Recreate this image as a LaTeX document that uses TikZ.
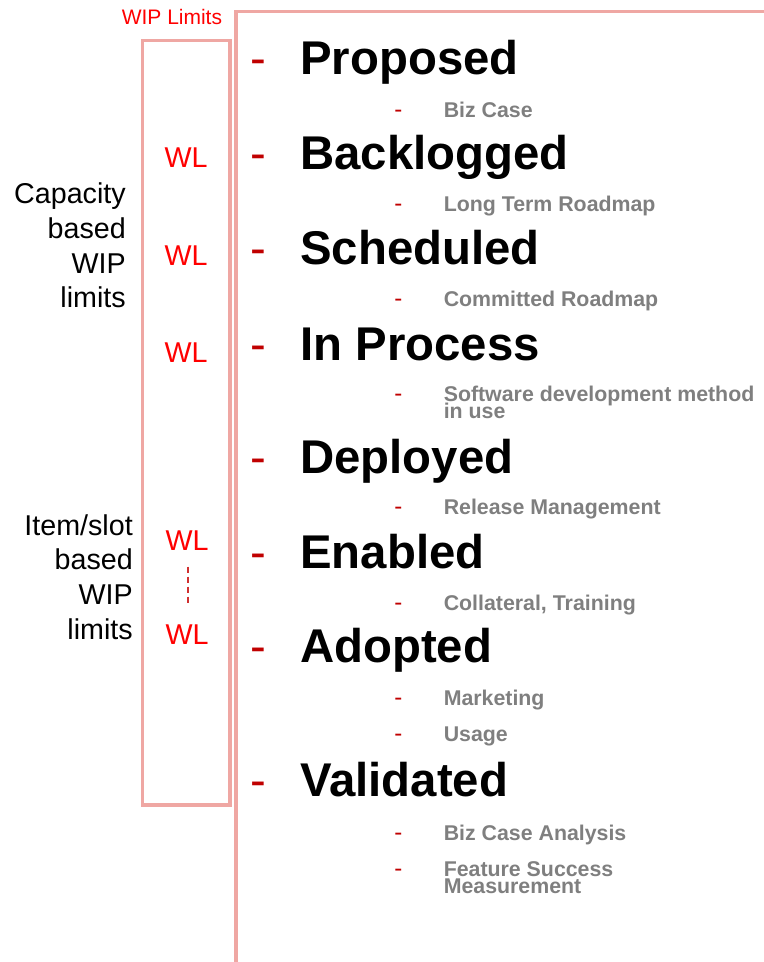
\documentclass[tikz,border=0pt]{standalone}
\usepackage{fontspec}
\setmainfont{Liberation Sans}

\definecolor{framepink}{RGB}{239,167,163}
\definecolor{bulletred}{RGB}{192,0,0}
\definecolor{wlred}{RGB}{255,0,0}
\definecolor{subgray}{RGB}{127,127,127}
\definecolor{dashred}{RGB}{208,48,48}

% multi-line texts whose first baseline is the node's base
\newcommand{\leftstack}[1]{\parbox[t]{90pt}{\lineskiplimit=-100pt\raggedleft #1}}
\newcommand{\rightstack}[1]{\parbox[t]{240pt}{\lineskiplimit=-100pt\raggedright #1}}

\tikzset{
  frame/.style={draw=framepink, line width=2.5pt},
  stage/.style={anchor=base west, inner sep=0pt, text=black,
    font=\fontsize{35.5}{40}\selectfont\bfseries},
  stagebullet/.style={anchor=base west, inner sep=0pt, text=bulletred,
    font=\fontsize{35.5}{40}\selectfont},
  detail/.style={anchor=base west, inner sep=0pt, text=subgray,
    font=\fontsize{16}{12.5}\selectfont\bfseries},
  detailbullet/.style={anchor=base west, inner sep=0pt, text=bulletred,
    font=\fontsize{18}{20}\selectfont},
  wl/.style={anchor=base, inner sep=0pt, text=wlred,
    font=\fontsize{21.5}{26}\selectfont},
  sidenote/.style={anchor=base east, inner sep=0pt, text=black,
    font=\fontsize{21.5}{26}\selectfont},
  wllink/.style={draw=dashred, line width=1.5pt, dash pattern=on 4.5pt off 3pt},
}

\begin{document}
\begin{tikzpicture}[x=0.75pt, y=-0.75pt]
  \useasboundingbox (0,0) rectangle (763,962);

  % frames
  \draw[frame] (142.5,40.5) rectangle (230,805);
  \draw[frame] (775,11.5) -- (236,11.5) -- (236,975);

  % title of the WIP-limit column
  \node[anchor=base west, inner sep=0pt, text=wlred,
        font=\fontsize{15.75}{18}\selectfont] (wiplabel) at (121.5,25) {WIP Limits};

  % side notes
  \node[sidenote] (capnote) at (126,204) {\leftstack{Capacity\\based\\WIP\\limits}};
  \node[sidenote] (itemnote) at (133,535) {\leftstack{Item/slot\\based\\WIP\\limits}};

  % WIP limit markers
  \node[wl] (wl1) at (186,168) {WL};
  \node[wl] (wl2) at (186,265.7) {WL};
  \node[wl] (wl3) at (186,362) {WL};
  \node[wl] (wl4) at (187,550.7) {WL};
  \node[wl] (wl5) at (187,644) {WL};
  \draw[wllink] ([xshift=1pt,yshift=-12pt]wl4.base) -- ([xshift=1pt,yshift=29pt]wl5.base);

  % stages
  \node[stagebullet] (b1) at (250.5,75)    {-};
  \node[stage]       (h1) at (300,75)      {Proposed};
  \node[stagebullet] (b2) at (250.5,170)   {-};
  \node[stage]       (h2) at (300,170)     {Backlogged};
  \node[stagebullet] (b3) at (250.5,265)   {-};
  \node[stage]       (h3) at (300,265)     {Scheduled};
  \node[stagebullet] (b4) at (250.5,360)   {-};
  \node[stage]       (h4) at (300,360)     {In Process};
  \node[stagebullet] (b5) at (250.5,473.5) {-};
  \node[stage]       (h5) at (300,473.5)   {Deployed};
  \node[stagebullet] (b6) at (250.5,568.3) {-};
  \node[stage]       (h6) at (300,568.3)   {Enabled};
  \node[stagebullet] (b7) at (250.5,662.7) {-};
  \node[stage]       (h7) at (300,662.7)   {Adopted};
  \node[stagebullet] (b8) at (250.5,796)   {-};
  \node[stage]       (h8) at (300,796)     {Validated};

  % details under each stage
  \node[detailbullet] (sb1)  at (394,117.3) {-};
  \node[detail]       (s1)   at (443.5,117.3) {Biz Case};
  \node[detailbullet] (sb2)  at (394,211.7) {-};
  \node[detail]       (s2)   at (443.5,211.7) {Long Term Roadmap};
  \node[detailbullet] (sb3)  at (394,306.7) {-};
  \node[detail]       (s3)   at (443.5,306.7) {Committed Roadmap};
  \node[detailbullet] (sb4)  at (394,401.7) {-};
  \node[detail]       (s4)   at (443.5,401.7) {\rightstack{Software development method\\in use}};
  \node[detailbullet] (sb5)  at (394,514.3) {-};
  \node[detail]       (s5)   at (443.5,514.3) {Release Management};
  \node[detailbullet] (sb6)  at (394,610) {-};
  \node[detail]       (s6)   at (443.5,610) {Collateral, Training};
  \node[detailbullet] (sb7)  at (394,705) {-};
  \node[detail]       (s7)   at (443.5,705) {Marketing};
  \node[detailbullet] (sb8)  at (394,741.7) {-};
  \node[detail]       (s8)   at (443.5,741.7) {Usage};
  \node[detailbullet] (sb9)  at (394,840) {-};
  \node[detail]       (s9)   at (443.5,840) {Biz Case Analysis};
  \node[detailbullet] (sb10) at (394,876.7) {-};
  \node[detail]       (s10)  at (443.5,876.7) {\rightstack{Feature Success\\Measurement}};
\end{tikzpicture}
\end{document}
